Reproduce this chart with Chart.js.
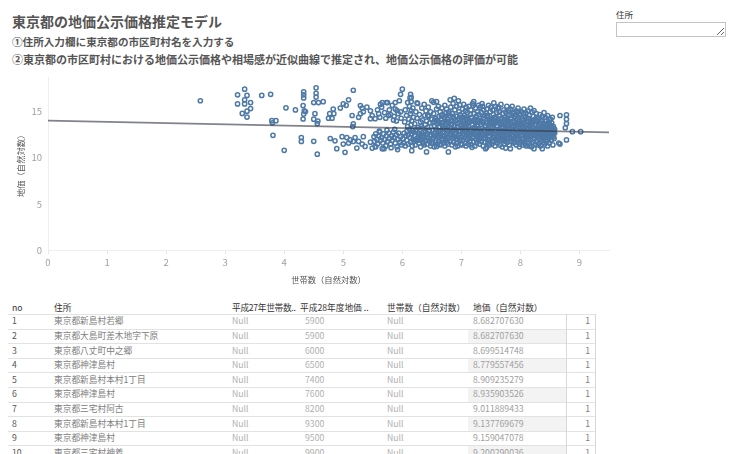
<!DOCTYPE html>
<html lang="ja">
<head>
<meta charset="utf-8">
<script src="https://cdn.jsdelivr.net/npm/chart.js@4.4.1/dist/chart.umd.min.js"></script>
<style>
  html, body { margin:0; padding:0; background:#fff; }
  body { width:736px; height:454px; overflow:hidden; position:relative; font-family:"Noto Sans CJK JP","Noto Sans",sans-serif; }
  .abs { position:absolute; white-space:nowrap; }
  #title { left:12px; top:12px; font-size:14px; font-weight:bold; color:#555; line-height:18px; }
  .sub { left:12px; font-weight:bold; color:#555; line-height:14px; }
  #addrLabel { left:616px; top:8px; font-size:8.5px; color:#333; line-height:12px; }
  #addrInput { position:absolute; left:616px; top:22px; width:110px; height:15px; box-sizing:border-box; border:1px solid #c4c4c4; margin:0; padding:0; font-size:9px; resize:both; background:#fff; }
  #chartBox { position:absolute; left:0; top:66px; width:620px; height:224px; }
  .cell { position:absolute; white-space:nowrap; font-size:8.7px; line-height:12px; }
  .hline { position:absolute; height:1px; background:#e2e2e2; }
  .vline { position:absolute; width:1px; background:#d8d8d8; }
  .shade { position:absolute; background:#f3f3f3; }
</style>
</head>
<body>
<div id="title" class="abs">東京都の地価公示価格推定モデル</div>
<div class="abs sub" style="top:35px;font-size:10.6px;">①住所入力欄に東京都の市区町村名を入力する</div>
<div class="abs sub" style="top:52px;font-size:11px;">②東京都の市区町村における地価公示価格や相場感が近似曲線で推定され、地価公示価格の評価が可能</div>
<div id="addrLabel" class="abs">住所</div>
<textarea id="addrInput"></textarea>
<div id="chartBox"><canvas id="c" width="620" height="224"></canvas></div>
<div id="table"></div>
<script>
// ---- axis ticks ----
const xTicks = [0, 1, 2, 3, 4, 5, 6, 7, 8, 9];
const yTicks = [0, 5, 10, 15];

// ---- trend line (approximate regression curve) ----
const trendX = [0, 9.5];
const trendY = [14.04, 12.77];

const pointsUnder5_5 = [
 [2.58,16.2],[3.21,16.84],[3.33,17.45],[3.37,16.78],[3.21,15.85],[3.33,16.3],[3.33,15.85],[3.43,16.0],[3.43,15.35],
 [3.37,15.07],[3.29,14.82],[3.37,14.43],[3.62,16.78],[3.77,16.9],[3.79,14.04],[3.86,14.04],[3.80,13.8],[3.81,12.45],
 [4.0,10.82],[4.03,15.43],[4.19,15.2],[4.33,17.16],[4.33,16.84],[4.33,16.5],[4.32,15.67],[4.36,15.03],[4.33,14.75],
 [4.32,14.22],[4.29,12.2],[4.29,11.78],[4.54,17.6],[4.54,17.0],[4.54,16.6],[4.50,16.0],[4.58,16.0],[4.66,16.1],
 [4.34,15.1],[4.52,14.8],[4.50,14.2],[4.57,14.0],[4.56,13.72],[4.83,15.3],[4.77,14.8],[4.84,14.8],[4.81,14.3],[4.75,14.3],
 [5.0,15.85],[5.09,16.3],[5.17,17.34],[5.15,14.6],[5.17,13.7],[5.16,13.4],[4.95,15.4],[5.05,15.7],
 [5.29,15.67],[5.32,15.4],[5.34,15.0],[5.29,14.8],[5.26,14.4],[5.40,15.5],[5.46,15.1],[5.49,14.6],[5.46,14.25],
 [4.50,11.8],[4.56,10.4],[4.78,12.1],[4.86,11.85],[4.89,11.0],[5.0,11.5],[5.03,10.6],[4.98,12.3],[5.06,12.2],
 [5.12,11.95],[5.09,11.6],[5.17,11.78],[5.20,12.2],[5.26,11.78],[5.32,11.5],[5.34,12.3],[5.23,11.06],[5.37,11.24],
 [5.46,11.7],[5.49,11.06]
];
const points5_5to6_5 = [
 [5.54,14.25],[5.54,11.24],[5.66,11.0],[5.63,15.8],[5.66,16.0],[5.73,16.0],[5.88,16.0],[5.97,16.9],[6.0,17.45],
 [5.58,15.2],[5.6,14.8],[5.62,14.4],[5.65,15.5],[5.7,14.9],[5.72,14.3],[5.75,16.0],[5.78,15.2],[5.8,14.7],[5.83,15.7],
 [5.86,14.5],[5.88,15.3],[5.9,14.0],[5.93,14.8],[5.95,16.2],[5.97,15.0],[5.98,14.3],[5.77,14.6],[5.85,14.1],[5.91,15.14],
 [5.52,12.3],[5.53,11.8],[5.55,12.6],[5.57,12.0],[5.58,11.5],[5.6,12.4],[5.62,12.8],[5.63,11.9],[5.65,12.2],[5.67,11.6],
 [5.68,12.6],[5.7,12.0],[5.72,11.3],[5.73,12.4],[5.75,11.8],[5.77,12.7],[5.78,12.1],[5.8,11.5],[5.82,12.4],[5.83,11.9],
 [5.85,12.8],[5.86,12.2],[5.88,11.6],[5.9,12.5],[5.91,11.2],[5.93,12.0],[5.94,12.7],[5.96,11.7],[5.97,12.3],[5.99,11.4],
 [5.55,11.2],[5.69,11.0],[5.81,11.1],[5.92,10.9],[5.61,12.9],[5.74,13.0],[5.87,13.1],
 [6.01,12.1],[6.02,11.6],[6.03,12.7],[6.04,13.9],[6.05,11.3],[6.05,15.2],[6.06,12.4],[6.07,14.6],[6.08,11.9],[6.08,12.9],
 [6.09,16.0],[6.09,13.4],[6.1,11.5],[6.1,12.5],[6.14,16.9],[6.15,16.56],[6.15,16.1],[6.25,15.96],[6.16,10.78],
 [6.11,14.2],[6.12,15.6],[6.12,13.1],[6.13,12.2],[6.13,16.5],[6.14,14.8],[6.14,11.7],[6.15,13.6],[6.15,15.1],[6.16,12.6],
 [6.16,14.0],[6.17,11.3],[6.17,13.0],[6.18,12.0],[6.18,15.4],[6.19,12.8],[6.19,14.4],[6.2,11.8],
 [6.21,12.4],[6.21,13.7],[6.22,11.4],[6.23,15.0],[6.23,12.9],[6.24,11.9],[6.25,14.3],[6.26,12.2],[6.26,15.9],[6.27,13.3],
 [6.28,11.6],[6.28,12.7],[6.29,14.7],[6.3,12.0],
 [6.31,11.2],[6.31,13.9],[6.32,12.5],[6.33,15.4],[6.33,12.0],[6.34,14.1],[6.35,11.7],[6.35,13.2],[6.36,12.8],[6.37,15.8],
 [6.37,11.4],[6.38,14.6],[6.38,12.3],[6.39,13.6],[6.4,11.9],[6.4,15.1],
 [6.41,12.6],[6.41,14.0],[6.41,10.64],[6.42,11.5],[6.43,13.3],[6.44,12.1],[6.44,15.5],[6.45,14.5],[6.46,11.8],[6.46,12.9],
 [6.47,13.8],[6.48,11.3],[6.48,15.0],[6.49,12.4],[6.5,14.2],[6.5,16.2]
];
const points6_5to7_5 = [
 [6.51,11.6],[6.51,13.0],[6.52,12.2],[6.53,14.8],[6.53,16.03],[6.54,11.2],[6.54,13.5],[6.55,12.7],[6.56,14.3],[6.58,16.1],
 [6.57,11.9],[6.57,13.1],[6.58,11.24],[6.58,15.3],[6.59,12.5],[6.59,14.0],[6.6,13.7],[6.6,11.5],
 [6.61,12.9],[6.61,15.6],[6.62,14.5],[6.62,11.8],[6.63,12.3],[6.63,13.4],[6.64,15.0],[6.64,11.4],[6.65,14.1],[6.65,12.6],
 [6.66,13.8],[6.67,11.9],[6.67,15.4],[6.68,12.1],[6.68,14.7],[6.69,13.2],[6.7,11.6],[6.7,12.8],
 [6.71,14.4],[6.71,12.4],[6.72,15.7],[6.72,11.3],[6.73,13.6],[6.73,12.0],[6.74,14.9],[6.74,13.0],[6.75,11.7],[6.75,15.3],
 [6.76,12.7],[6.76,14.2],[6.77,13.4],[6.77,11.5],[6.78,10.64],[6.78,12.2],[6.79,15.0],[6.79,13.9],[6.8,12.5],[6.8,14.6],
 [6.81,16.3],[6.81,11.9],[6.82,13.2],[6.82,15.5],[6.83,12.6],[6.83,14.0],[6.84,11.4],[6.84,13.7],[6.85,12.1],[6.85,14.8],
 [6.86,15.9],[6.86,12.9],[6.87,11.7],[6.87,14.3],[6.88,16.46],[6.88,13.5],[6.89,12.3],[6.89,15.2],[6.9,11.2],[6.9,13.1],
 [6.91,14.5],[6.91,12.7],[6.92,11.6],[6.92,15.6],[6.93,13.3],[6.93,12.0],[6.94,14.1],[6.94,11.3],[6.95,16.2],[6.95,12.5],
 [6.96,13.8],[6.96,15.0],[6.97,15.74],[6.97,11.9],[6.98,14.7],[6.98,12.9],[6.99,13.5],[6.99,11.5],[7.0,12.3],[7.0,14.4],
 [7.01,11.4],[7.01,13.2],[7.02,15.3],[7.02,12.6],[7.03,14.0],[7.03,11.9],[7.04,13.7],[7.04,15.8],[7.05,12.2],[7.05,14.6],
 [7.06,11.6],[7.06,13.0],[7.07,15.1],[7.07,12.8],[7.08,14.3],[7.08,11.3],[7.09,13.5],[7.09,12.4],[7.1,14.9],[7.1,12.0],
 [7.05,13.9],[7.08,15.5],
 [7.11,12.7],[7.11,14.2],[7.12,11.5],[7.12,13.4],[7.13,15.6],[7.13,12.1],[7.14,13.9],[7.14,11.8],[7.15,14.7],[7.15,12.9],
 [7.16,15.2],[7.16,13.1],[7.17,11.4],[7.17,14.4],[7.18,11.14],[7.18,12.5],[7.19,13.6],[7.19,15.9],[7.2,12.3],[7.2,14.0],
 [7.21,16.1],[7.2,15.67],
 [7.21,11.7],[7.22,13.3],[7.22,14.8],[7.23,12.6],[7.23,11.3],[7.24,15.4],[7.24,13.8],[7.25,12.0],[7.25,14.5],[7.26,12.9],
 [7.26,11.6],[7.27,15.0],[7.27,13.5],[7.28,12.3],[7.28,14.1],[7.29,15.7],[7.29,11.9],[7.3,13.1],[7.3,14.7],[7.24,12.5],
 [7.27,13.9],[7.3,12.7],
 [7.31,11.5],[7.31,14.3],[7.32,12.8],[7.32,15.5],[7.33,13.6],[7.33,12.1],[7.34,14.9],[7.34,11.8],[7.35,13.2],[7.35,15.9],
 [7.36,12.4],[7.36,14.0],[7.37,11.3],[7.37,13.8],[7.38,15.2],[7.38,12.6],[7.39,14.6],[7.39,13.0],[7.4,11.7],[7.4,12.2],
 [7.41,11.0],[7.36,15.6],
 [7.41,13.5],[7.42,14.8],[7.42,12.5],[7.43,11.14],[7.43,15.3],[7.44,13.1],[7.44,12.0],[7.45,14.4],[7.45,11.6],[7.46,15.7],
 [7.46,12.8],[7.47,13.9],[7.47,12.3],[7.48,14.2],[7.48,11.4],[7.49,13.4],[7.49,15.0],[7.5,12.7],[7.5,15.5],[7.44,14.6],
 [7.47,11.9],[7.5,13.7]
];
const points7_5to8_6 = [
 [7.51,12.1],[7.51,14.1],[7.52,11.5],[7.52,13.3],[7.53,15.2],[7.53,12.9],[7.54,14.7],[7.54,11.8],[7.55,15.96],[7.55,13.6],
 [7.56,12.4],[7.56,14.4],[7.57,11.3],[7.57,13.0],[7.58,15.6],[7.58,12.6],[7.59,13.9],[7.59,11.9],[7.6,14.9],[7.6,12.2],
 [7.54,13.8],[7.58,14.3],
 [7.61,13.4],[7.61,11.6],[7.62,15.4],[7.62,12.7],[7.63,14.0],[7.63,12.0],[7.64,13.1],[7.64,15.0],[7.65,11.4],[7.65,14.6],
 [7.66,12.5],[7.66,13.7],[7.67,15.8],[7.67,11.9],[7.68,14.3],[7.68,12.9],[7.69,13.3],[7.69,11.2],[7.7,14.8],[7.7,12.3],
 [7.63,15.5],[7.67,13.0],
 [7.71,12.0],[7.71,13.9],[7.72,15.2],[7.72,11.5],[7.73,14.4],[7.73,12.8],[7.74,13.5],[7.74,11.8],[7.75,11.06],[7.75,15.0],
 [7.76,12.4],[7.76,14.1],[7.77,13.2],[7.77,15.6],[7.78,11.7],[7.78,12.9],[7.79,14.7],[7.79,13.6],[7.8,12.2],[7.8,15.14],
 [7.75,13.0],[7.78,14.0],
 [7.81,11.4],[7.81,13.3],[7.82,14.6],[7.82,12.6],[7.83,11.0],[7.83,15.3],[7.84,13.8],[7.84,12.1],[7.85,14.3],[7.85,11.8],
 [7.86,13.0],[7.86,15.6],[7.87,12.5],[7.87,14.0],[7.88,11.6],[7.88,13.5],[7.89,14.97],[7.89,12.8],[7.9,13.9],[7.9,12.2],
 [7.85,12.9],[7.88,14.8],
 [7.91,11.7],[7.91,14.5],[7.92,13.1],[7.92,12.3],[7.93,15.1],[7.93,11.4],[7.94,13.7],[7.94,12.7],[7.95,14.2],[7.95,11.9],
 [7.96,15.4],[7.96,13.4],[7.97,15.03],[7.97,12.0],[7.98,14.0],[7.98,12.6],[7.99,13.2],[7.99,11.5],[8.0,14.7],[8.0,12.9],
 [7.95,13.0],[7.98,11.2],
 [8.01,13.6],[8.01,11.8],[8.02,15.0],[8.02,12.4],[8.03,14.1],[8.03,12.9],[8.04,11.4],[8.04,13.3],[8.05,14.8],[8.05,12.1],
 [8.06,15.3],[8.06,13.8],[8.07,11.7],[8.07,12.7],[8.08,14.4],[8.08,13.0],[8.09,12.2],[8.09,14.9],[8.1,11.3],[8.1,13.5],
 [8.05,13.0],[8.08,11.5],
 [8.11,12.6],[8.11,14.3],[8.12,13.1],[8.12,11.6],[8.13,15.1],[8.13,12.0],[8.14,13.9],[8.14,12.8],[8.15,11.3],[8.15,14.6],
 [8.16,13.4],[8.16,12.3],[8.17,15.4],[8.17,11.9],[8.18,14.0],[8.18,12.6],[8.19,13.7],[8.19,11.2],[8.2,14.97],[8.2,12.9],
 [8.15,13.6],[8.18,13.2],
 [8.21,11.7],[8.21,13.3],[8.22,14.5],[8.22,12.4],[8.23,15.14],[8.23,11.0],[8.24,13.0],[8.24,12.1],[8.25,14.2],[8.25,11.5],
 [8.26,13.6],[8.26,12.7],[8.27,14.8],[8.27,11.8],[8.28,13.2],[8.28,12.3],[8.29,14.0],[8.29,12.9],[8.3,11.4],[8.3,13.5],
 [8.25,13.0],[8.28,14.4],
 [8.31,12.6],[8.31,14.3],[8.32,13.1],[8.32,11.6],[8.33,14.7],[8.33,12.0],[8.34,13.8],[8.34,11.3],[8.35,14.1],[8.35,12.8],
 [8.36,13.4],[8.36,11.9],[8.37,11.0],[8.37,14.5],[8.38,12.4],[8.38,13.0],[8.39,13.7],[8.39,11.7],[8.4,14.9],[8.4,12.2],
 [8.35,13.3],[8.38,12.7],
 [8.41,13.2],[8.41,11.5],[8.42,14.4],[8.42,12.6],[8.43,13.6],[8.43,12.0],[8.44,14.0],[8.44,11.8],[8.45,13.0],[8.45,12.4],
 [8.46,14.6],[8.46,11.3],[8.47,13.4],[8.47,12.8],[8.48,13.9],[8.48,12.1],[8.49,12.9],[8.49,11.6],[8.5,13.5],[8.5,14.2],
 [8.45,13.7],[8.48,12.4],
 [8.51,14.18],[8.51,12.7],[8.52,13.3],[8.52,11.9],[8.53,13.8],[8.53,12.3],[8.54,13.0],[8.54,14.4],[8.55,12.6],[8.55,11.4],
 [8.56,13.4],[8.57,12.9],[8.57,12.1],[8.58,13.1]
];
const pointsCoreExtra = [
 [6.22,12.0],[6.24,13.1],[6.27,11.9],[6.29,12.5],[6.32,13.4],[6.34,12.3],[6.36,11.6],[6.39,12.9],[6.42,12.2],[6.43,14.6],
 [6.45,13.0],[6.47,12.5],[6.49,11.6],[6.52,13.8],[6.53,12.4],[6.55,14.1],[6.56,11.7],[6.58,13.0],[6.6,12.3],[6.62,13.9],
 [6.63,12.8],[6.65,11.5],[6.66,14.6],[6.68,13.5],[6.69,12.4],[6.71,13.1],[6.72,14.2],[6.74,12.5],[6.75,13.9],[6.77,12.1],
 [6.78,14.8],[6.8,13.3],[6.81,12.6],[6.83,13.6],[6.84,12.8],[6.86,14.5],[6.87,12.4],[6.88,13.0],[6.9,14.1],[6.92,12.3],
 [6.93,13.7],[6.95,12.9],[6.96,14.3],[6.98,12.0],[7.0,13.4],[7.02,12.9],[7.03,14.4],[7.05,12.6],[7.07,13.4],[7.09,14.1],
 [7.1,12.7],[7.12,13.9],[7.14,12.4],[7.16,14.0],[7.17,12.9],[7.19,12.2],[7.21,13.0],[7.23,14.2],[7.25,13.2],[7.26,12.3],
 [7.28,13.6],[7.3,12.2],[7.32,14.0],[7.33,12.9],[7.35,12.6],[7.37,14.3],[7.39,12.1],[7.4,13.4],[7.42,13.8],[7.44,12.7],
 [7.46,13.4],[7.48,12.8],[7.5,14.1],[7.52,12.7],[7.53,14.0],[7.55,12.2],[7.57,14.1],[7.59,12.9],[7.6,13.5],[7.62,12.2],
 [7.64,13.8],[7.65,12.8],[7.67,14.0],[7.69,12.6],[7.7,13.6],[7.72,12.5],[7.74,14.2],[7.76,13.3],[7.77,12.0],[7.79,12.7],
 [7.8,13.9],[7.82,13.1],[7.84,14.3],[7.86,12.3],[7.87,13.3],[7.89,12.1],[7.91,13.5],[7.92,14.7],[7.94,12.1],[7.96,12.8],
 [7.97,14.4],[7.99,13.7],[8.01,12.5],[8.03,13.6],[8.04,12.0],[8.06,14.1],[8.07,13.3],[8.09,12.6],[8.11,13.6],[8.12,12.5],
 [8.14,14.3],[8.16,12.9],[8.17,13.9],[8.19,12.4],[8.21,12.8],[8.22,13.9],[8.24,12.6],[8.26,14.0],[8.27,13.1],[8.29,12.5],
 [8.31,13.4],[8.33,12.4],[8.34,13.1],[8.36,14.0],[8.37,12.2],[8.39,13.3],[8.41,12.8],[8.43,13.1],[8.44,12.4],[8.46,13.6],
 [8.47,12.3],[8.49,13.7],[8.5,12.5],[8.52,12.9],[8.53,13.5],[8.55,13.2],[8.56,12.3],[8.58,12.7]
];
const pointsOver8_6 = [
 [8.67,14.6],[8.78,14.68],[8.78,14.18],[8.78,13.72],[8.76,13.27],[8.88,12.84],[9.02,12.84],[8.78,11.95],[8.67,11.5],[8.65,11.6]
];

// ---- table rows ----
const tableNo = [1, 2, 3, 4, 5, 6, 7, 8, 9, 10];
const tableAddress = ["東京都新島村若郷","東京都大島町差木地字下原","東京都八丈町中之郷","東京都神津島村","東京都新島村本村1丁目","東京都神津島村","東京都三宅村阿古","東京都新島村本村1丁目","東京都神津島村","東京都三宅村神着"];
const tableHouseholds = ["Null","Null","Null","Null","Null","Null","Null","Null","Null","Null"];
const tablePrice = [5900, 5900, 6000, 6500, 7400, 7600, 8200, 9300, 9500, 9900];
const tableHouseholdsLn = ["Null","Null","Null","Null","Null","Null","Null","Null","Null","Null"];
const tablePriceLn = ["8.682707630","8.682707630","8.699514748","8.779557456","8.909235279","8.935903526","9.011889433","9.137769679","9.159047078","9.200290036"];
const tableCount = [1, 1, 1, 1, 1, 1, 1, 1, 1, 1];
const tableHeaders = ["no","住所","平成27年世帯数..","平成28年度地価 ..","世帯数（自然対数）","地価（自然対数）"];

// ---- build table ----
(function(){
  const t = document.getElementById('table');
  const colX = [12, 54, 232, 305, 387, 473];
  const hdrX = [12, 54, 232, 300, 387, 473];
  const rowH = 14.6, firstLine = 314;
  function add(cls, style, text){ const d=document.createElement('div'); d.className=cls; d.setAttribute('style',style); if(text!==undefined) d.textContent=text; t.appendChild(d); }
  for (let i=0;i<tableNo.length;i++){
    if (i%2===1) add('shade', `left:468px;top:${firstLine+rowH*i+1}px;width:98px;height:${rowH-1}px;`);
  }
  tableHeaders.forEach((h,j)=> add('cell', `left:${hdrX[j]}px;top:302px;color:#333;` + (j===2 ? 'letter-spacing:-0.3px;' : ''), h));
  for (let k=0;k<=tableNo.length;k++){
    add('hline', `left:8px;top:${firstLine+rowH*k}px;width:588px;`);
  }
  add('vline', `left:566px;top:${firstLine}px;height:${rowH*tableNo.length+2}px;`);
  add('vline', `left:595px;top:${firstLine}px;height:${rowH*tableNo.length+2}px;`);
  for (let i=0;i<tableNo.length;i++){
    const cy = firstLine + rowH*i + rowH/2 - 6;
    add('cell', `left:${colX[0]}px;top:${cy}px;color:#555;`, String(tableNo[i]));
    add('cell', `left:${colX[1]}px;top:${cy}px;color:#808080;`, tableAddress[i]);
    add('cell', `left:${colX[2]}px;top:${cy}px;color:#b0b0b0;`, tableHouseholds[i]);
    add('cell', `left:${colX[3]}px;top:${cy}px;color:#b0b0b0;`, String(tablePrice[i]));
    add('cell', `left:${colX[4]}px;top:${cy}px;color:#b0b0b0;`, tableHouseholdsLn[i]);
    add('cell', `left:${colX[5]}px;top:${cy}px;color:#a0a0a0;`, tablePriceLn[i]);
    add('cell', `left:560px;width:30px;text-align:right;top:${cy}px;color:#808080;`, String(tableCount[i]));
  }
})();

// ---- chart ----
const allPoints = [].concat(pointsUnder5_5, points5_5to6_5, points6_5to7_5, points7_5to8_6, pointsCoreExtra, pointsOver8_6)
  .map(p => ({x: p[0], y: p[1]}));
const trendPoints = trendX.map((x,i) => ({x, y: trendY[i]}));
const FONT = '"Noto Sans CJK JP", "Noto Sans", sans-serif';

new Chart(document.getElementById('c'), {
  type: 'scatter',
  data: {
    datasets: [
      { type:'line', data: trendPoints, borderColor:'rgba(50,55,70,0.62)', borderWidth:1.6, pointRadius:0, fill:false, order:0, tension:0 },
      { data: allPoints, borderColor:'#4e79a7', backgroundColor:'rgba(255,255,255,0)', pointRadius:2.1, pointBorderWidth:1.5, pointHoverRadius:2.1, order:1 }
    ]
  },
  options: {
    responsive:false, animation:false,
    layout: { padding: { top:7, right:11, left:0, bottom:0 } },
    plugins: { legend:{display:false}, tooltip:{enabled:false} },
    scales: {
      x: {
        type:'linear', min:0, max:9.5,
        afterFit: s => { s.height = 40; },
        afterBuildTicks: s => { s.ticks = xTicks.map(v => ({value:v})); },
        ticks: { color:'#a0a0a0', font:{family:FONT, size:9.5}, padding:3, maxRotation:0, autoSkip:false },
        grid: { drawOnChartArea:false, drawTicks:true, tickLength:4, color:'#e6e6e6' },
        border: { display:true, color:'#efefef' },
        title: { display:true, text:'世帯数（自然対数）', color:'#555', font:{family:FONT, size:8.3}, padding:{top:0, bottom:5} }
      },
      y: {
        type:'linear', min:0, max:18.7,
        afterFit: s => { s.width = 48; },
        afterBuildTicks: s => { s.ticks = yTicks.map(v => ({value:v})); },
        ticks: { color:'#a0a0a0', font:{family:FONT, size:9.5}, padding:6 },
        grid: { drawOnChartArea:false, drawTicks:false, color:'#efefef' },
        border: { display:true, color:'#efefef' },
        title: { display:true, text:'地価（自然対数）', color:'#555', font:{family:FONT, size:8.3}, padding:{top:15.6, bottom:0} }
      }
    }
  }
});
</script>
</body>
</html>
